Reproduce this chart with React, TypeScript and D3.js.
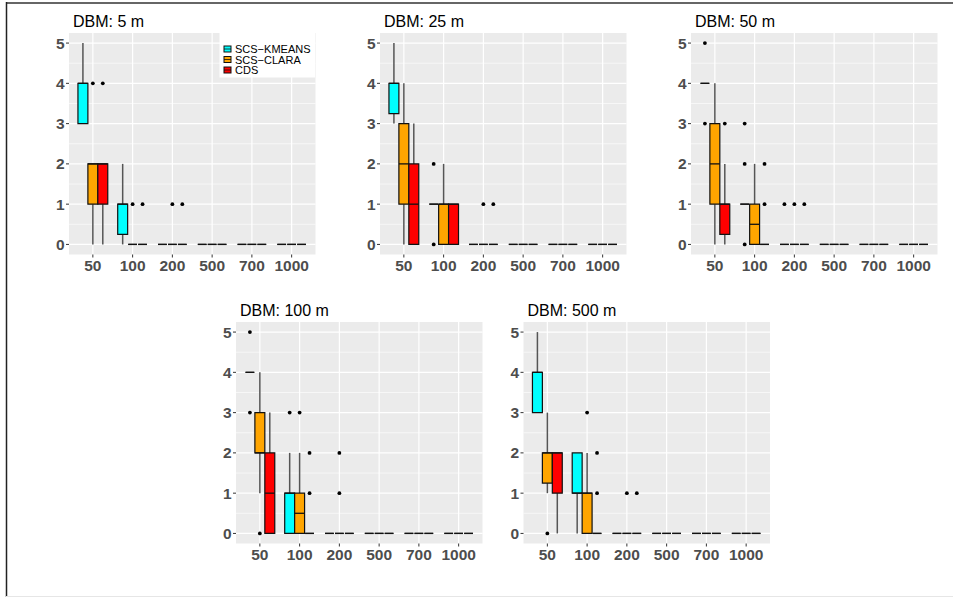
import * as d3 from 'd3'

// boxplot rows: [category, method index, lower whisker, q1, median, q3, upper whisker, outliers]
type Box = [string, number, number, number, number, number, number, number[]]

const categories = ['50', '100', '200', '500', '700', '1000']
const methods = ['SCS−KMEANS', 'SCS−CLARA', 'CDS']
const methodColors = ['#00FFFF', '#FFA500', '#FF0000']
const yTicks = [0, 1, 2, 3, 4, 5]
const yMinor = [0.5, 1.5, 2.5, 3.5, 4.5]

const dbm5: Box[] = [
  ['50', 0, 3, 3, 4, 4, 5, []],
  ['50', 1, 0, 1, 2, 2, 2, [4]],
  ['50', 2, 0, 1, 2, 2, 2, [4]],
  ['100', 0, 0, 0.25, 1, 1, 2, []],
  ['100', 1, 0, 0, 0, 0, 0, [1]],
  ['100', 2, 0, 0, 0, 0, 0, [1]],
  ['200', 0, 0, 0, 0, 0, 0, []],
  ['200', 1, 0, 0, 0, 0, 0, [1]],
  ['200', 2, 0, 0, 0, 0, 0, [1]],
  ['500', 0, 0, 0, 0, 0, 0, []],
  ['500', 1, 0, 0, 0, 0, 0, []],
  ['500', 2, 0, 0, 0, 0, 0, []],
  ['700', 0, 0, 0, 0, 0, 0, []],
  ['700', 1, 0, 0, 0, 0, 0, []],
  ['700', 2, 0, 0, 0, 0, 0, []],
  ['1000', 0, 0, 0, 0, 0, 0, []],
  ['1000', 1, 0, 0, 0, 0, 0, []],
  ['1000', 2, 0, 0, 0, 0, 0, []],
]

const dbm25: Box[] = [
  ['50', 0, 3, 3.25, 4, 4, 5, []],
  ['50', 1, 0, 1, 2, 3, 4, []],
  ['50', 2, 0, 0, 1, 2, 3, []],
  ['100', 0, 1, 1, 1, 1, 1, [0, 2]],
  ['100', 1, 0, 0, 1, 1, 2, []],
  ['100', 2, 0, 0, 1, 1, 1, []],
  ['200', 0, 0, 0, 0, 0, 0, []],
  ['200', 1, 0, 0, 0, 0, 0, [1]],
  ['200', 2, 0, 0, 0, 0, 0, [1]],
  ['500', 0, 0, 0, 0, 0, 0, []],
  ['500', 1, 0, 0, 0, 0, 0, []],
  ['500', 2, 0, 0, 0, 0, 0, []],
  ['700', 0, 0, 0, 0, 0, 0, []],
  ['700', 1, 0, 0, 0, 0, 0, []],
  ['700', 2, 0, 0, 0, 0, 0, []],
  ['1000', 0, 0, 0, 0, 0, 0, []],
  ['1000', 1, 0, 0, 0, 0, 0, []],
  ['1000', 2, 0, 0, 0, 0, 0, []],
]

const dbm50: Box[] = [
  ['50', 0, 4, 4, 4, 4, 4, [5, 3]],
  ['50', 1, 0, 1, 2, 3, 4, []],
  ['50', 2, 0, 0.25, 1, 1, 2, [3]],
  ['100', 0, 1, 1, 1, 1, 1, [3, 2, 0]],
  ['100', 1, 0, 0, 0.5, 1, 2, []],
  ['100', 2, 0, 0, 0, 0, 0, [1, 2]],
  ['200', 0, 0, 0, 0, 0, 0, [1]],
  ['200', 1, 0, 0, 0, 0, 0, [1]],
  ['200', 2, 0, 0, 0, 0, 0, [1]],
  ['500', 0, 0, 0, 0, 0, 0, []],
  ['500', 1, 0, 0, 0, 0, 0, []],
  ['500', 2, 0, 0, 0, 0, 0, []],
  ['700', 0, 0, 0, 0, 0, 0, []],
  ['700', 1, 0, 0, 0, 0, 0, []],
  ['700', 2, 0, 0, 0, 0, 0, []],
  ['1000', 0, 0, 0, 0, 0, 0, []],
  ['1000', 1, 0, 0, 0, 0, 0, []],
  ['1000', 2, 0, 0, 0, 0, 0, []],
]

const dbm100: Box[] = [
  ['50', 0, 4, 4, 4, 4, 4, [5, 3]],
  ['50', 1, 1, 2, 2, 3, 4, [0]],
  ['50', 2, 0, 0, 1, 2, 3, []],
  ['100', 0, 0, 0, 1, 1, 2, [3]],
  ['100', 1, 0, 0, 0.5, 1, 2, [3]],
  ['100', 2, 0, 0, 0, 0, 0, [1, 2]],
  ['200', 0, 0, 0, 0, 0, 0, []],
  ['200', 1, 0, 0, 0, 0, 0, [1, 2]],
  ['200', 2, 0, 0, 0, 0, 0, []],
  ['500', 0, 0, 0, 0, 0, 0, []],
  ['500', 1, 0, 0, 0, 0, 0, []],
  ['500', 2, 0, 0, 0, 0, 0, []],
  ['700', 0, 0, 0, 0, 0, 0, []],
  ['700', 1, 0, 0, 0, 0, 0, []],
  ['700', 2, 0, 0, 0, 0, 0, []],
  ['1000', 0, 0, 0, 0, 0, 0, []],
  ['1000', 1, 0, 0, 0, 0, 0, []],
  ['1000', 2, 0, 0, 0, 0, 0, []],
]

const dbm500: Box[] = [
  ['50', 0, 3, 3, 4, 4, 5, []],
  ['50', 1, 1, 1.25, 2, 2, 3, [0]],
  ['50', 2, 0, 1, 2, 2, 2, []],
  ['100', 0, 0, 1, 1, 2, 2, []],
  ['100', 1, 0, 0, 1, 1, 2, [3]],
  ['100', 2, 0, 0, 0, 0, 0, [1, 2]],
  ['200', 0, 0, 0, 0, 0, 0, []],
  ['200', 1, 0, 0, 0, 0, 0, [1]],
  ['200', 2, 0, 0, 0, 0, 0, [1]],
  ['500', 0, 0, 0, 0, 0, 0, []],
  ['500', 1, 0, 0, 0, 0, 0, []],
  ['500', 2, 0, 0, 0, 0, 0, []],
  ['700', 0, 0, 0, 0, 0, 0, []],
  ['700', 1, 0, 0, 0, 0, 0, []],
  ['700', 2, 0, 0, 0, 0, 0, []],
  ['1000', 0, 0, 0, 0, 0, 0, []],
  ['1000', 1, 0, 0, 0, 0, 0, []],
  ['1000', 2, 0, 0, 0, 0, 0, []],
]

const panelTitles = ['DBM: 5 m', 'DBM: 25 m', 'DBM: 50 m', 'DBM: 100 m', 'DBM: 500 m']
const panelData = [dbm5, dbm25, dbm50, dbm100, dbm500]

// plot-area placement of each facet
const layout = [
  { left: 69, top: 33, legend: true },
  { left: 380, top: 33, legend: false },
  { left: 691, top: 33, legend: false },
  { left: 236, top: 322, legend: false },
  { left: 523.5, top: 322, legend: false },
]
const PW = 246.5
const PH = 221.5
const FONT = '"Liberation Sans", Arial, Helvetica, sans-serif'
const TICK_COL = '#4D4D4D'
const TICK_SIZE = 15.5

function Panel({ title, data, left, top, legend }: { title: string; data: Box[]; left: number; top: number; legend: boolean }) {
  // discrete axis with 0.6 expansion on each side
  const x = d3.scaleLinear().domain([-0.6, categories.length - 1 + 0.6]).range([0, PW])
  const y = d3.scaleLinear().domain([-0.25, 5.25]).range([PH, 0])
  const unit = x(1) - x(0)
  const dodge = d3.scaleBand<number>().domain([0, 1, 2]).range([-0.375 * unit, 0.375 * unit])
  const bw = dodge.bandwidth()

  return (
    <g transform={`translate(${left},${top})`}>
      <text x={4} y={-6} fontSize={16} fontFamily={FONT} fill="#000">{title}</text>
      <rect x={0} y={0} width={PW} height={PH} fill="#EBEBEB" />
      {yMinor.map(v => (
        <line key={'m' + v} x1={0} x2={PW} y1={y(v)} y2={y(v)} stroke="#fff" strokeWidth={0.6} />
      ))}
      {yTicks.map(v => (
        <line key={'y' + v} x1={0} x2={PW} y1={y(v)} y2={y(v)} stroke="#fff" strokeWidth={1.2} />
      ))}
      {categories.map((c, i) => (
        <line key={'x' + c} x1={x(i)} x2={x(i)} y1={0} y2={PH} stroke="#fff" strokeWidth={1.2} />
      ))}

      {data.map((b, k) => {
        const [cat, m, lo, q1, med, q3, hi, out] = b
        const cx = x(categories.indexOf(cat)) + (dodge(m) as number)
        const mid = cx + bw / 2
        const flat = q1 === q3
        // zero-height boxes show as short dashes with tiny gaps between them
        const x0 = flat ? cx + 0.6 : cx
        const x1 = flat ? cx + bw - 0.6 : cx + bw
        return (
          <g key={k}>
            {hi > q3 && <line x1={mid} x2={mid} y1={y(q3)} y2={y(hi)} stroke="#555" strokeWidth={1.5} />}
            {lo < q1 && <line x1={mid} x2={mid} y1={y(q1)} y2={y(lo)} stroke="#555" strokeWidth={1.5} />}
            <path
              d={`M${x0},${y(q3)}H${x1}V${y(q1)}H${x0}Z`}
              fill={methodColors[m]}
              stroke="#111"
              strokeWidth={1.2}
            />
            <line x1={x0} x2={x1} y1={y(med)} y2={y(med)} stroke="#111" strokeWidth={1.3} />
            {out.map((o, j) => (
              <circle key={j} cx={mid} cy={y(o)} r={1.9} fill="#000" />
            ))}
          </g>
        )
      })}

      {yTicks.map(v => (
        <g key={'yt' + v}>
          <line x1={-3} x2={0} y1={y(v)} y2={y(v)} stroke="#333" strokeWidth={1} />
          <text x={-4.5} y={y(v)} dy="0.36em" textAnchor="end" fontSize={TICK_SIZE} fontWeight="bold" fontFamily={FONT} fill={TICK_COL}>{v}</text>
        </g>
      ))}
      {categories.map((c, i) => (
        <g key={'xt' + c}>
          <line x1={x(i)} x2={x(i)} y1={PH} y2={PH + 3} stroke="#333" strokeWidth={1} />
          <text x={x(i)} y={PH + 16.5} textAnchor="middle" fontSize={TICK_SIZE} fontWeight="bold" fontFamily={FONT} fill={TICK_COL}>{c}</text>
        </g>
      ))}

      {legend && (
        <g transform={`translate(${PW - 96},0)`}>
          <rect x={0} y={0} width={95.5} height={44.5} fill="#fff" />
          {methods.map((name, i) => (
            <g key={name} transform={`translate(4.5,${16 + i * 10.5})`}>
              <rect x={0} y={-3} width={7} height={6} fill={methodColors[i]} stroke="#111" strokeWidth={1} />
              <line x1={0} x2={7} y1={0} y2={0} stroke="#111" strokeWidth={0.8} />
              <text x={11} y={4} fontSize={11} fontFamily={FONT} fill="#000">{name}</text>
            </g>
          ))}
        </g>
      )}
    </g>
  )
}

export default function App() {
  return (
    <svg
      width={953}
      height={597}
      style={{ position: 'absolute', left: 0, top: 0, background: '#fff', display: 'block' }}
    >
      <rect x={0} y={0} width={953} height={597} fill="#fff" />
      <line x1={6} x2={953} y1={3} y2={3} stroke="#666" strokeWidth={2} />
      <line x1={6.5} x2={6.5} y1={2} y2={597} stroke="#222" strokeWidth={1.5} />
      <line x1={6} x2={953} y1={596.5} y2={596.5} stroke="#e6e6e6" strokeWidth={1} />
      {layout.map((p, i) => (
        <Panel key={i} title={panelTitles[i]} data={panelData[i]} left={p.left} top={p.top} legend={p.legend} />
      ))}
    </svg>
  )
}
